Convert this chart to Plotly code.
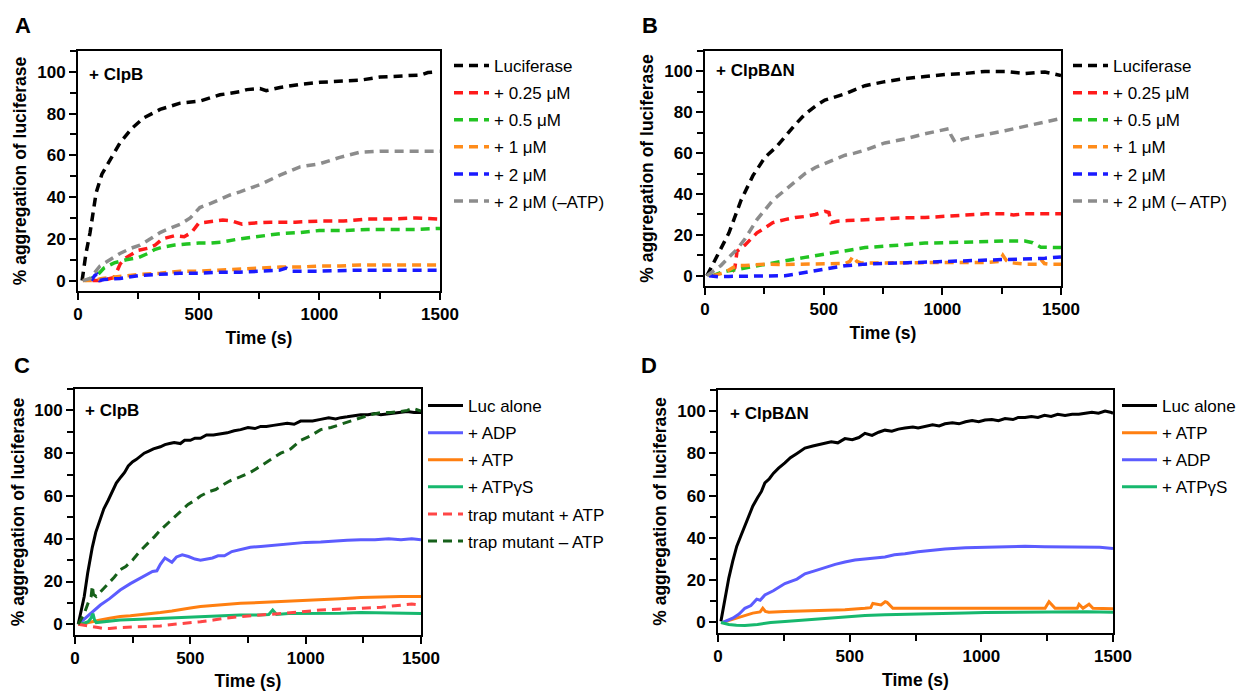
import plotly.graph_objects as go

W, H = 1250, 691          # screenshot size
OFF = 8                   # page body margin in the browser
FW, FH = W - OFF, H - OFF # figure size so that it ends at the window edge

# ---------------- Panel A (+ ClpB, dashed) ----------------
A_names = ["Luciferase", "+ 0.25 μM", "+ 0.5 μM", "+ 1 μM", "+ 2 μM", "+ 2 μM (–ATP)"]
A_luc_t = [17, 33, 50, 75, 99, 120, 141, 174, 224, 273, 340, 423, 505, 588, 671, 700, 754, 780, 837, 920, 1002, 1085, 1168, 1251, 1334, 1384, 1420, 1450, 1480]
A_luc_v = [0, 13, 23, 42, 51, 55, 59, 66, 73, 78, 82, 85, 86, 89, 90.5, 91.5, 92, 91, 92.5, 94, 95, 95.5, 96, 97.5, 98, 98, 98.5, 99.7, 100]
A_r025_t = [60, 100, 150, 175, 200, 250, 290, 320, 350, 400, 440, 470, 500, 540, 600, 640, 680, 720, 800, 900, 1000, 1100, 1200, 1300, 1400, 1500]
A_r025_v = [0, 0, 1.5, 8, 11, 14.5, 15.5, 17, 20, 21.5, 21, 23, 27.5, 28, 29, 28.5, 27, 27.5, 28, 28, 28.5, 28.5, 29.5, 29.5, 30, 29.5]
A_r05_t = [30, 75, 108, 150, 200, 250, 290, 320, 350, 400, 450, 500, 550, 600, 670, 750, 840, 920, 1000, 1100, 1200, 1300, 1400, 1500]
A_r05_v = [0, 2, 6, 8.5, 10, 11, 13, 15, 16, 17, 17.5, 18, 18, 18.5, 20, 21, 22.5, 23, 24, 24, 24.5, 24.5, 24.5, 25]
A_r1_t = [20, 60, 100, 174, 257, 340, 423, 505, 588, 671, 754, 837, 920, 1002, 1085, 1168, 1251, 1334, 1417, 1500]
A_r1_v = [0, 0, 1, 2, 3, 3.5, 4.5, 4.5, 5, 5.5, 6, 6.5, 6.5, 7, 7, 7.5, 7.5, 7.5, 7.5, 7.5]
A_r2_t = [55, 70, 78, 90, 108, 174, 257, 340, 423, 505, 588, 671, 754, 837, 862, 887, 1002, 1168, 1334, 1500]
A_r2_v = [0, 2.5, 3, 0, 0.5, 1, 2.5, 3, 3.5, 3.5, 4, 4, 4.5, 5, 6, 4.5, 4.5, 5, 5, 5]
A_r2n_t = [20, 50, 91, 130, 174, 220, 257, 300, 340, 380, 423, 465, 505, 550, 588, 630, 671, 754, 837, 920, 1002, 1085, 1168, 1251, 1334, 1417, 1500]
A_r2n_v = [0, 1, 7, 10, 13, 15.5, 17, 20, 23, 25, 27, 30, 35, 37, 39, 41, 42.5, 46, 50.5, 54.5, 56, 59, 61.5, 62, 62, 62, 62]

# ---------------- Panel B (+ ClpBΔN, dashed) ----------------
B_names = ["Luciferase", "+ 0.25 μM", "+ 0.5 μM", "+ 1 μM", "+ 2 μM", "+ 2 μM (– ATP)"]
B_luc_t = [8, 51, 101, 152, 202, 253, 300, 337, 380, 421, 465, 505, 550, 590, 630, 674, 758, 843, 927, 1011, 1095, 1180, 1264, 1348, 1432, 1500]
B_luc_v = [0, 10, 21, 37, 49, 58, 63, 68, 74, 79, 83, 86, 87.5, 89, 91, 93, 95, 96.5, 97.5, 98.5, 99, 100, 100, 99, 99.7, 98]
B_r025_t = [115, 126, 135, 168, 219, 286, 337, 380, 421, 465, 505, 522, 531, 556, 600, 674, 758, 843, 927, 1011, 1095, 1180, 1264, 1300, 1348, 1432, 1500]
B_r025_v = [2, 4, 12, 15, 21, 26, 27.5, 28.5, 29, 30, 31.5, 31, 26, 26.7, 27, 27.5, 27.8, 28.4, 28.5, 29, 29.5, 30.3, 30.3, 29.8, 30.3, 30.5, 30.3]
B_r05_t = [30, 67, 100, 135, 200, 253, 337, 421, 505, 590, 674, 758, 843, 927, 1011, 1095, 1180, 1264, 1348, 1381, 1415, 1450, 1500]
B_r05_v = [0, 1.6, 2.5, 3, 4.5, 5.7, 7.3, 9, 10.5, 12, 13.8, 14.5, 15.4, 16, 16.2, 16.5, 17, 17, 17, 16.2, 14, 14, 13.8]
B_r1_t = [34, 84, 118, 135, 168, 253, 337, 421, 505, 590, 610, 623, 640, 657, 758, 843, 927, 1011, 1095, 1180, 1240, 1255, 1270, 1281, 1348, 1400, 1415, 1430, 1449, 1500]
B_r1_v = [0, 1.6, 4, 5, 5, 5.7, 5.5, 5.7, 5.7, 6, 7, 9.5, 7, 6.3, 6.3, 6.5, 6.5, 6.5, 6.5, 6.5, 7, 10, 7.5, 6.5, 5.7, 5.7, 8, 6, 5.7, 5.7]
B_r2_t = [17, 60, 101, 175, 253, 337, 380, 421, 465, 505, 550, 590, 674, 758, 843, 927, 1011, 1095, 1180, 1264, 1348, 1432, 1500]
B_r2_v = [0, -0.5, -0.3, -0.3, -0.3, 0, 0.8, 1.6, 2.4, 3.2, 4, 4.9, 5.7, 6, 6.2, 6.5, 6.8, 7.2, 7.6, 7.9, 8.1, 8.6, 9.2]
B_r2n_t = [8, 67, 100, 135, 168, 219, 286, 337, 380, 421, 465, 505, 550, 590, 630, 674, 758, 843, 927, 1000, 1028, 1036, 1053, 1090, 1129, 1200, 1264, 1348, 1432, 1500]
B_r2n_v = [0, 5, 9, 13, 18, 27.5, 37, 42, 46, 50, 53, 55, 57, 59, 60, 61.5, 65, 67, 69.5, 71, 72, 69, 65.5, 67, 68, 69.5, 71, 73, 75, 77]

# ---------------- Panel C (+ ClpB, nucleotides) ----------------
C_names = ["Luc alone", "+ ADP", "+ ATP", "+ ATPγS", "trap mutant + ATP", "trap mutant – ATP"]
C_luc_t = [14, 25, 40, 55, 75, 90, 110, 125, 144, 160, 179, 200, 215, 231, 250, 265, 283, 300, 320, 340, 370, 390, 410, 430, 457, 475, 500, 520, 544, 570, 600, 631, 660, 690, 718, 750, 780, 805, 830, 860, 892, 920, 950, 978, 1000, 1030, 1065, 1100, 1130, 1152, 1180, 1210, 1239, 1270, 1300, 1326, 1360, 1390, 1413, 1440, 1470, 1500]
C_luc_v = [0, 6, 13, 24, 36, 43, 49, 54, 58, 62, 66, 69, 71, 74, 76, 77, 78.6, 80, 81, 82, 83, 84, 84.5, 85, 84.5, 86, 86, 87, 87, 88.5, 88.5, 89, 89.5, 90.5, 91, 92, 91.5, 92.5, 92.5, 93, 93.4, 94, 93.5, 95, 95, 95, 95.8, 96.5, 96, 96.6, 97, 97.5, 98, 98, 98.5, 98, 98.5, 99, 99, 99.5, 99, 99]
C_adp_t = [14, 30, 57, 80, 110, 150, 196, 240, 283, 320, 336, 355, 370, 390, 405, 420, 440, 465, 492, 520, 544, 570, 596, 620, 648, 680, 718, 760, 805, 850, 892, 950, 1000, 1065, 1120, 1180, 1239, 1300, 1360, 1413, 1460, 1500]
C_adp_v = [0, 1.5, 3.6, 6, 9, 12, 16, 19, 21.5, 23.5, 24.7, 25, 28, 31, 30, 29, 31.5, 32.5, 31.7, 30.5, 30, 30.5, 31, 32, 32, 34, 35, 36, 36.4, 36.8, 37, 37.8, 38.3, 38.5, 39, 39.3, 39.5, 39.5, 40, 39.5, 40, 39.5]
C_atp_t = [23, 60, 110, 150, 196, 240, 283, 330, 370, 420, 457, 500, 544, 590, 631, 680, 718, 800, 892, 980, 1065, 1150, 1239, 1330, 1413, 1500]
C_atp_v = [0, 1, 2, 2.8, 3.6, 4, 4.4, 5, 5.5, 6.2, 7, 7.6, 8.3, 8.7, 9, 9.5, 9.8, 10.2, 10.6, 11.2, 11.7, 12, 12.5, 12.8, 13, 13]
C_gs_t = [14, 40, 57, 70, 78, 85, 92, 120, 196, 283, 370, 457, 544, 631, 718, 800, 840, 857, 874, 926, 1000, 1065, 1150, 1239, 1330, 1413, 1500]
C_gs_v = [0, 0.5, 1.2, 3, 5, 2, 0.8, 1.2, 2, 2.4, 2.8, 3.2, 3.6, 4, 4.4, 4.4, 4.6, 6.7, 4.6, 5, 5, 5, 5.2, 5.5, 5.3, 5.2, 5]
C_trp_t = [14, 50, 75, 100, 127, 150, 196, 250, 300, 370, 430, 490, 544, 600, 660, 718, 800, 892, 980, 1065, 1150, 1239, 1330, 1413, 1460, 1500]
C_trp_v = [0, -0.5, -1, -1.5, -2, -2, -1.5, -1.2, -1, -0.8, 0, 0.5, 1.2, 2, 3, 3.6, 4.2, 5, 5.8, 6.7, 7, 7.5, 8, 9, 9.5, 9]
C_trm_t = [14, 40, 57, 70, 75, 80, 92, 120, 144, 170, 196, 220, 249, 280, 318, 345, 370, 400, 430, 457, 490, 520, 544, 580, 610, 631, 670, 718, 760, 805, 850, 892, 935, 978, 1020, 1065, 1110, 1152, 1200, 1239, 1280, 1326, 1370, 1413, 1440, 1465, 1500]
C_trm_v = [0, 5, 10, 13, 18, 14, 13, 16, 19, 22, 25.5, 27, 30, 34, 38, 41, 44, 47, 50, 53, 56, 58, 60, 62, 63, 64.5, 67, 69, 71, 74, 77, 80, 82, 86, 88, 91, 92, 93.5, 95, 96.5, 98, 99, 99, 99.5, 100, 101, 99.7]

# ---------------- Panel D (+ ClpBΔN, nucleotides) ----------------
D_names = ["Luc alone", "+ ATP", "+ ADP", "+ ATPγS"]
D_luc_t = [11, 25, 41, 56, 71, 87, 102, 117, 132, 150, 165, 178, 195, 210, 230, 254, 275, 300, 330, 360, 380, 406, 430, 455, 482, 510, 535, 558, 585, 610, 634, 660, 685, 710, 740, 760, 786, 815, 840, 862, 890, 915, 940, 965, 990, 1014, 1040, 1065, 1090, 1120, 1140, 1166, 1190, 1215, 1240, 1265, 1290, 1318, 1345, 1370, 1395, 1420, 1445, 1470, 1490, 1500]
D_luc_v = [0.5, 10, 21, 29, 36, 41, 46, 51, 55, 59, 62, 66, 68, 70.5, 73, 75.5, 78, 80, 82.5, 83.5, 84, 85, 85.5, 85, 87, 86.5, 87.5, 89.5, 88.5, 90, 91, 90.5, 91.5, 92, 92.5, 92, 92.7, 93.5, 93, 94, 94.5, 94, 95, 95.5, 95, 95.8, 96, 95.5, 96.5, 96, 97, 97, 97.5, 97, 98, 97.5, 98.5, 98, 98.5, 98.5, 99, 99.5, 99, 100, 99.5, 99]
D_atp_t = [18, 45, 71, 100, 132, 160, 170, 180, 193, 254, 330, 406, 482, 558, 580, 588, 605, 619, 635, 642, 664, 710, 786, 862, 940, 1014, 1090, 1166, 1242, 1257, 1270, 1280, 1364, 1371, 1386, 1409, 1424, 1460, 1500]
D_atp_v = [0, 1, 2, 3, 4.4, 5, 6.7, 5.2, 4.8, 5.2, 5.5, 5.5, 6, 6.7, 7, 9, 8.5, 8.3, 9.8, 9.5, 6.7, 6.7, 6.8, 6.7, 6.8, 6.7, 6.8, 6.7, 6.7, 9.8, 8, 6.7, 6.7, 8.6, 6.7, 8.6, 6.7, 6.5, 6.5]
D_adp_t = [18, 40, 56, 80, 102, 125, 147, 160, 178, 210, 254, 300, 330, 370, 406, 445, 482, 520, 558, 600, 634, 670, 710, 760, 800, 862, 940, 1014, 1090, 1166, 1240, 1318, 1400, 1450, 1500]
D_adp_v = [0, 1, 2, 4, 6.7, 8, 11, 10.5, 13, 15, 18.4, 20.5, 23, 24.5, 26, 27.5, 28.6, 29.5, 30, 30.5, 31, 32, 32.5, 33.5, 34, 34.8, 35.3, 35.6, 35.8, 36, 35.8, 35.6, 35.5, 35.6, 35]
D_gs_t = [11, 41, 70, 102, 150, 200, 254, 330, 406, 482, 558, 634, 710, 786, 862, 940, 1014, 1090, 1166, 1240, 1318, 1400, 1500]
D_gs_v = [0, -1, -1.3, -1.5, -1, 0, 0.5, 1.2, 2, 2.6, 3.3, 3.6, 3.9, 4.2, 4.4, 4.5, 4.7, 4.8, 4.8, 5, 5.2, 5, 4.8]

panel_letters = ["A", "B", "C", "D"]
panel_labels = ["+ ClpB", "+ ClpBΔN", "+ ClpB", "+ ClpBΔN"]
x_ticks = [0, 500, 1000, 1500]
y_ticks = [0, 20, 40, 60, 80, 100]

BLACK = "#000000"
RED = "#ff1a1a"
GREEN = "#22c422"
ORANGE = "#ff8c1a"
BLUE = "#1a1aff"
GRAY = "#8c8c8c"
C_BLUE = "#5c5cff"
C_ORANGE = "#ff7f11"
C_TEAL = "#17b86e"
C_RED = "#ff4646"
C_DKGREEN = "#16601a"

FONT = "Liberation Sans, Arial, sans-serif"
DASH = "9px,6px"


def px_x(px):
    return (px - OFF) / FW


def px_y(py):
    return 1 - (py - OFF) / FH


fig = go.Figure()


def add(t, v, name, color, axis, legend, dash=None, width=3.5, group=""):
    fig.add_trace(go.Scatter(
        x=t, y=v, name=name, mode="lines",
        line=dict(color=color, width=width, dash=dash if dash else "solid"),
        xaxis="x" + axis, yaxis="y" + axis, legend=legend,
        legendgroup=group + name, hoverinfo="skip"))


A_series = [(A_luc_t, A_luc_v, BLACK), (A_r025_t, A_r025_v, RED), (A_r05_t, A_r05_v, GREEN),
            (A_r1_t, A_r1_v, ORANGE), (A_r2_t, A_r2_v, BLUE), (A_r2n_t, A_r2n_v, GRAY)]
for (t, v, c), n in zip(A_series, A_names):
    add(t, v, n, c, "", "legend", DASH, 3.5, "A")

B_series = [(B_luc_t, B_luc_v, BLACK), (B_r025_t, B_r025_v, RED), (B_r05_t, B_r05_v, GREEN),
            (B_r1_t, B_r1_v, ORANGE), (B_r2_t, B_r2_v, BLUE), (B_r2n_t, B_r2n_v, GRAY)]
for (t, v, c), n in zip(B_series, B_names):
    add(t, v, n, c, "2", "legend2", DASH, 3.5, "B")

C_series = [(C_luc_t, C_luc_v, BLACK, None), (C_adp_t, C_adp_v, C_BLUE, None),
            (C_atp_t, C_atp_v, C_ORANGE, None), (C_gs_t, C_gs_v, C_TEAL, None),
            (C_trp_t, C_trp_v, C_RED, DASH), (C_trm_t, C_trm_v, C_DKGREEN, DASH)]
for (t, v, c, d), n in zip(C_series, C_names):
    add(t, v, n, c, "3", "legend3", d, 3, "C")

D_series = [(D_luc_t, D_luc_v, BLACK), (D_atp_t, D_atp_v, C_ORANGE),
            (D_adp_t, D_adp_v, C_BLUE), (D_gs_t, D_gs_v, C_TEAL)]
for (t, v, c), n in zip(D_series, D_names):
    add(t, v, n, c, "4", "legend4", None, 3, "D")

# plot frames in screen pixels: (left, right, top, bottom)
frames = {"": (78, 440, 51, 291), "2": (705, 1061, 51, 286),
          "3": (75, 421, 389, 635), "4": (718, 1113, 390, 633)}

tickfont = dict(family=FONT, size=17, color="black", weight="bold")
titlefont = dict(family=FONT, size=17.5, color="black", weight="bold")

layout = dict(width=FW, height=FH, margin=dict(l=0, r=0, t=0, b=0, autoexpand=False),
              plot_bgcolor="white", paper_bgcolor="white", showlegend=True)

for key, (l, r, t, b) in frames.items():
    xa = dict(domain=[px_x(l), px_x(r)], range=[0, 1500], tickvals=x_ticks,
              showline=True, linecolor="black", linewidth=2, mirror=True,
              ticks="outside", ticklen=7, tickwidth=2, tickcolor="black",
              minor=dict(dtick=250, ticks="outside", ticklen=6, tickwidth=2, tickcolor="black"),
              showgrid=False, zeroline=False, tickfont=tickfont, automargin=True,
              title=dict(text="Time (s)", font=titlefont, standoff=8),
              anchor="y" + key, fixedrange=True)
    ya = dict(domain=[px_y(b), px_y(t)], range=[-5, 110], tickvals=y_ticks,
              showline=True, linecolor="black", linewidth=2, mirror=True,
              ticks="outside", ticklen=7, tickwidth=2, tickcolor="black",
              minor=dict(dtick=10, ticks="outside", ticklen=6, tickwidth=2, tickcolor="black"),
              showgrid=False, zeroline=False, tickfont=tickfont, automargin=True,
              title=dict(text="% aggregation of luciferase", font=titlefont, standoff=6),
              anchor="x" + key, fixedrange=True)
    layout["xaxis" + key] = xa
    layout["yaxis" + key] = ya

legfont = dict(family=FONT, size=17, color="black")


def leg(x_px, y_px):
    return dict(x=px_x(x_px), y=px_y(y_px), xanchor="left", yanchor="top",
                font=legfont, bgcolor="rgba(0,0,0,0)", borderwidth=0,
                tracegroupgap=2, itemwidth=35, traceorder="grouped")


layout["legend"] = leg(449, 48)
layout["legend2"] = leg(1068, 48)
layout["legend3"] = leg(423, 388)
layout["legend4"] = leg(1117, 388)

annotations = []
letter_pos = [(23, 25), (650, 25), (22, 365), (649, 365)]
for letter, (px, py) in zip(panel_letters, letter_pos):
    annotations.append(dict(text=letter, x=px_x(px), y=px_y(py), xref="paper", yref="paper",
                            xanchor="center", yanchor="middle", showarrow=False,
                            font=dict(family=FONT, size=22, color="black", weight="bold")))
label_pos = [("", 0.024, 0.904), ("2", 0.026, 0.915), ("3", 0.024, 0.911), ("4", 0.026, 0.905)]
for lab, (key, dx, dy) in zip(panel_labels, label_pos):
    annotations.append(dict(text=lab, x=dx, y=dy, xref="x" + key + " domain", yref="y" + key + " domain",
                            xanchor="left", yanchor="middle", showarrow=False,
                            font=dict(family=FONT, size=17, color="black", weight="bold")))
layout["annotations"] = annotations

fig.update_layout(**layout)
fig.write_html("out.html")
